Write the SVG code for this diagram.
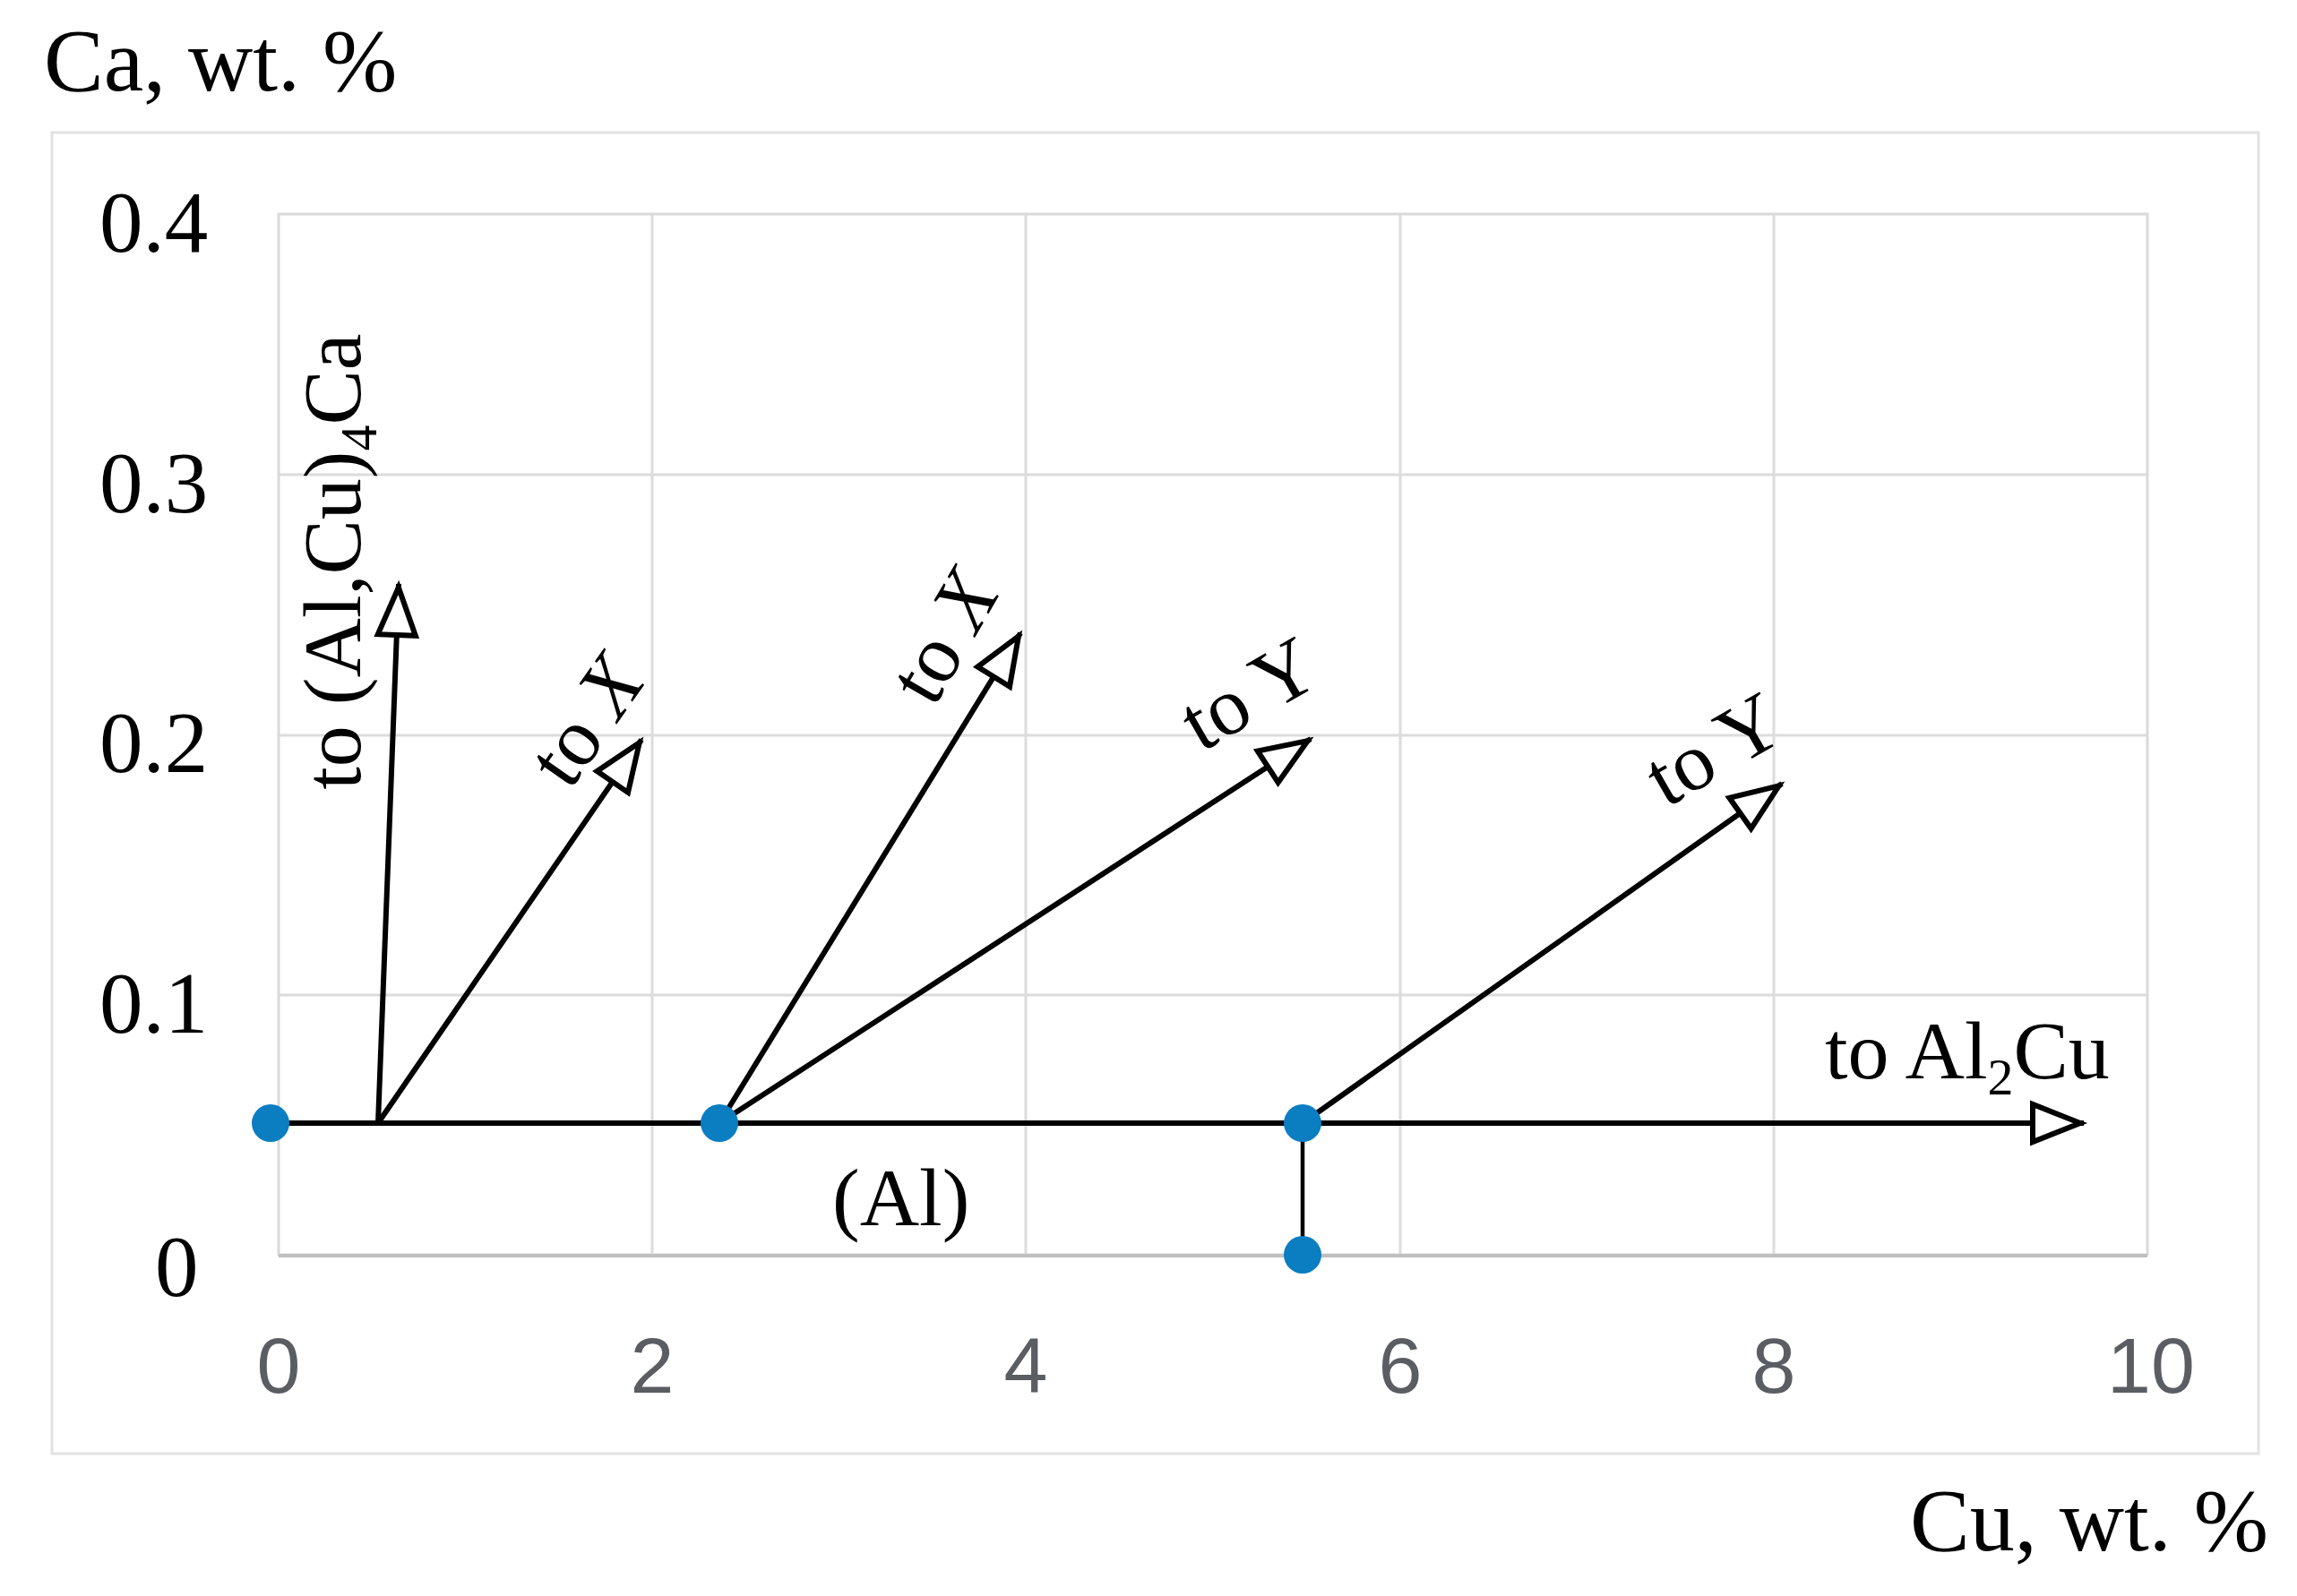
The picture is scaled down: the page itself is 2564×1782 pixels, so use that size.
<svg xmlns="http://www.w3.org/2000/svg" width="2564" height="1782" viewBox="0 0 2564 1782">
<style>
.frame{fill:none;stroke:#e2e2e2;stroke-width:3}
.plotbox{fill:none;stroke:#d9d9d9;stroke-width:3}
.grid{stroke:#dcdcdc;stroke-width:3}
.axisb{stroke:#bfbfbf;stroke-width:4}
.ser{font-family:"Liberation Serif","Times New Roman",serif;fill:#000}
.lab{font-size:92px}
.ytk{font-size:97px}
.tick{font-family:"Liberation Sans",Arial,sans-serif;fill:#5a5e63;font-size:88px;text-anchor:middle}
.arr{stroke:#000;stroke-width:6;fill:none;marker-end:url(#tri)}
.seg{stroke:#000;stroke-width:4.5;fill:none}
.dot{fill:#0b7dc1}
</style>
<defs>
<marker id="tri" viewBox="-64 -28 70 56" refX="0" refY="0" markerWidth="70" markerHeight="56" markerUnits="userSpaceOnUse" orient="auto">
<path d="M-4,0 L-57,-21 L-57,21 Z" fill="#fff" stroke="#000" stroke-width="6" stroke-linejoin="miter"/>
</marker>
</defs>
<rect width="2564" height="1782" fill="#fff"/>
<g id="frame">
<rect class="frame" x="58" y="148" width="2463" height="1475"/>
</g>
<g id="grid">
<line class="grid" x1="728" y1="239" x2="728" y2="1401"/>
<line class="grid" x1="1145" y1="239" x2="1145" y2="1401"/>
<line class="grid" x1="1563" y1="239" x2="1563" y2="1401"/>
<line class="grid" x1="1980" y1="239" x2="1980" y2="1401"/>
<line class="grid" x1="311" y1="530" x2="2397" y2="530"/>
<line class="grid" x1="311" y1="821" x2="2397" y2="821"/>
<line class="grid" x1="311" y1="1111" x2="2397" y2="1111"/>
<rect class="plotbox" x="311" y="239" width="2086" height="1162"/>
<line class="axisb" x1="311" y1="1402" x2="2397" y2="1402"/>
</g>
<g id="axis-labels">
<text class="ser" x="49" y="101" font-size="100">Ca, wt. %</text>
<text class="ser" x="2132" y="1731" font-size="100">Cu, wt. %</text>
<text class="ser ytk" x="111" y="281">0.4</text>
<text class="ser ytk" x="111" y="572">0.3</text>
<text class="ser ytk" x="111" y="862">0.2</text>
<text class="ser ytk" x="111" y="1153">0.1</text>
<text class="ser ytk" x="173" y="1447">0</text>
<text class="tick" x="311" y="1555">0</text>
<text class="tick" x="728" y="1555">2</text>
<text class="tick" x="1145" y="1555">4</text>
<text class="tick" x="1563" y="1555">6</text>
<text class="tick" x="1980" y="1555">8</text>
<text class="tick" x="2401" y="1555">10</text>
</g>
<g id="connectors">
<line class="arr" x1="302" y1="1254" x2="2326" y2="1254"/>
<line class="arr" x1="422" y1="1254" x2="445" y2="652"/>
<line class="arr" x1="422" y1="1254" x2="716" y2="826"/>
<line class="arr" x1="803" y1="1254" x2="1139" y2="707"/>
<line class="arr" x1="803" y1="1254" x2="1463" y2="825"/>
<line class="arr" x1="1454" y1="1254" x2="1989" y2="875"/>
<line class="seg" x1="1454" y1="1254" x2="1454" y2="1401"/>
</g>
<g id="node-p0"><circle class="dot" cx="302" cy="1254" r="21"/></g>
<g id="node-p1"><circle class="dot" cx="803" cy="1254" r="21"/></g>
<g id="node-p2"><circle class="dot" cx="1454" cy="1254" r="21"/></g>
<g id="node-p3"><circle class="dot" cx="1454" cy="1401" r="21"/></g>
<g id="labels">
<text class="ser lab" transform="translate(402,627) rotate(-90)" text-anchor="middle">to (Al,Cu)<tspan font-size="58" dy="18">4</tspan><tspan dy="-18">Ca</tspan></text>
<text class="ser lab" transform="translate(679,822) rotate(-55)" text-anchor="middle">to <tspan font-style="italic">X</tspan></text>
<text class="ser lab" transform="translate(1080,726) rotate(-60)" text-anchor="middle">to <tspan font-style="italic">X</tspan></text>
<text class="ser lab" transform="translate(1409,801) rotate(-30)" text-anchor="middle">to Y</text>
<text class="ser lab" transform="translate(1928,863) rotate(-30)" text-anchor="middle">to Y</text>
<text class="ser lab" x="2037" y="1204">to Al<tspan font-size="58" dy="18">2</tspan><tspan dy="-18">Cu</tspan></text>
<text class="ser lab" x="929" y="1368">(Al)</text>
</g>
</svg>
